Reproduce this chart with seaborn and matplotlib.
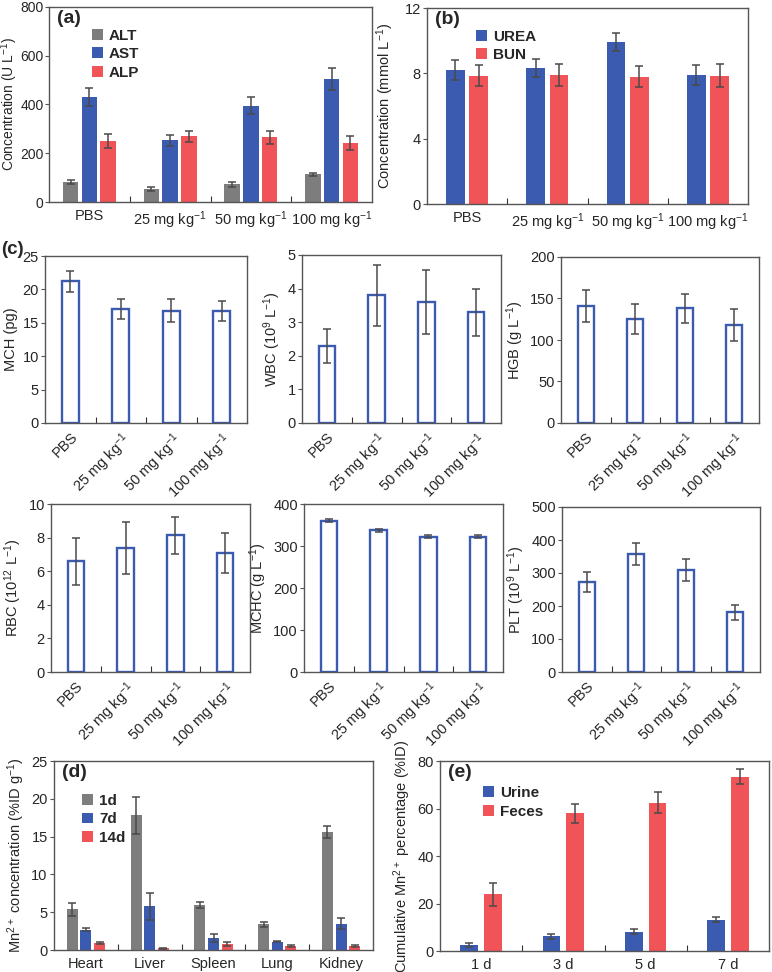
import numpy as np
import pandas as pd
import seaborn as sns
import matplotlib.pyplot as plt
from matplotlib.ticker import FixedLocator

sns.set_style("white")
plt.rcParams['font.family'] = ['Liberation Sans', 'DejaVu Sans']
plt.rcParams['mathtext.fontset'] = 'custom'
plt.rcParams['mathtext.rm'] = 'Liberation Sans'
plt.rcParams['mathtext.default'] = 'regular'
plt.rcParams['font.size'] = 10

# --- data ---
doses = ["PBS", "25 mg kg$^{-1}$", "50 mg kg$^{-1}$", "100 mg kg$^{-1}$"]

alt = [83, 55, 73, 113]
alt_err = [8, 8, 10, 8]
ast = [430, 253, 395, 505]
ast_err = [37, 22, 35, 45]
alp = [250, 270, 265, 242]
alp_err = [28, 22, 28, 28]

urea = [8.2, 8.3, 9.9, 7.9]
urea_err = [0.6, 0.55, 0.55, 0.6]
bun = [7.85, 7.9, 7.8, 7.85]
bun_err = [0.65, 0.7, 0.65, 0.7]

mch = [21.2, 17.0, 16.8, 16.7]
mch_err = [1.6, 1.5, 1.7, 1.5]
wbc = [2.3, 3.8, 3.6, 3.3]
wbc_err = [0.5, 0.9, 0.95, 0.7]
hgb = [141, 125, 138, 118]
hgb_err = [19, 18, 18, 19]
rbc = [6.6, 7.4, 8.15, 7.1]
rbc_err = [1.4, 1.55, 1.1, 1.2]
mchc = [360, 337, 322, 322]
mchc_err = [4, 4, 4, 4]
plt_vals = [272, 358, 309, 181]
plt_err = [30, 33, 33, 23]

organs = ["Heart", "Liver", "Spleen", "Lung", "Kidney"]
d1 = [5.4, 17.8, 6.0, 3.4, 15.6]
d1_err = [0.85, 2.5, 0.4, 0.35, 0.85]
d7 = [2.7, 5.8, 1.6, 1.1, 3.5]
d7_err = [0.25, 1.8, 0.55, 0.1, 0.75]
d14 = [0.9, 0.2, 0.8, 0.5, 0.5]
d14_err = [0.15, 0.05, 0.25, 0.1, 0.1]

days = ["1 d", "3 d", "5 d", "7 d"]
urine = [2.5, 6.2, 8.1, 13.2]
urine_err = [1.0, 1.1, 1.0, 1.1]
feces = [23.8, 58.0, 62.5, 73.4]
feces_err = [5.0, 4.0, 4.5, 3.2]

GRAY = "#7d7d7d"
BLUE = "#3b5bb0"
RED = "#f05459"
ERR = "#4a4a4a"
SPINE = "#555555"

W, H = 772, 972
fig = plt.figure(figsize=(W / 100, H / 100), dpi=100)


def px_axes(x0, y0, x1, y1):
    return fig.add_axes([x0 / W, 1 - y1 / H, (x1 - x0) / W, (y1 - y0) / H])


def style(ax, ymax, step, ncat):
    ax.set_ylim(0, ymax)
    ax.set_yticks(np.arange(0, ymax + step / 2, step))
    ax.set_xlim(-0.5, ncat - 0.5)
    for s in ax.spines.values():
        s.set_visible(True)
        s.set_color(SPINE)
        s.set_linewidth(1.0)
    ax.tick_params(axis='y', direction='out', length=3, width=0.8, color=SPINE,
                   labelsize=10.5, pad=1.5, left=True)
    ax.tick_params(axis='x', which='major', length=0, labelsize=10.5, pad=5)
    ax.xaxis.set_minor_locator(FixedLocator(np.arange(0.5, ncat - 1, 1.0)))
    ax.tick_params(axis='x', which='minor', direction='in', length=4, width=0.8,
                   color='#333333', bottom=True)
    ax.set_xlabel("")


def grouped(ax, cats, series, names, errs, colors, width, gap):
    rows = []
    for name, vals in zip(names, series):
        for c, v in zip(cats, vals):
            rows.append({'cat': c, 'series': name, 'value': v})
    df = pd.DataFrame(rows)
    sns.barplot(data=df, x='cat', y='value', hue='series', order=cats,
                hue_order=names, palette=colors, width=width, gap=gap,
                saturation=1, errorbar=None, linewidth=0, ax=ax)
    for cont, err in zip(ax.containers, errs):
        xs = [b.get_x() + b.get_width() / 2 for b in cont]
        ys = [b.get_height() for b in cont]
        ax.errorbar(xs, ys, yerr=err, fmt='none', ecolor=ERR, elinewidth=1.1,
                    capsize=3, capthick=1.1, zorder=5)
    ax.legend(handlelength=0.7, handleheight=0.7, handletextpad=0.4,
              labelspacing=0.3, frameon=False, loc='upper left',
              prop={'weight': 'bold', 'size': 11})


def panel_tag(ax, tag, x=0.025, y=0.985):
    ax.text(x, y, tag, transform=ax.transAxes, ha='left', va='top',
            fontsize=14, fontweight='bold')


# (a) liver enzymes
ax = px_axes(49, 7, 372, 202)
grouped(ax, doses, [alt, ast, alp], ["ALT", "AST", "ALP"],
        [alt_err, ast_err, alp_err], [GRAY, BLUE, RED], 0.7, 0.18)
style(ax, 800, 200, 4)
ax.tick_params(axis='y', labelsize=10, pad=1)
ax.set_ylabel("Concentration (U L$^{-1}$)", fontsize=10, labelpad=0)
ax.legend_.set_bbox_to_anchor((0.09, 0.96))
panel_tag(ax, "(a)")

# (b) kidney
ax = px_axes(427, 8, 748, 204)
grouped(ax, doses, [urea, bun], ["UREA", "BUN"], [urea_err, bun_err],
        [BLUE, RED], 0.58, 0.2)
style(ax, 12, 4, 4)
ax.set_ylabel("Concentration (mmol L$^{-1}$)", fontsize=10.5, labelpad=6)
ax.legend_.set_bbox_to_anchor((0.11, 0.96))
panel_tag(ax, "(b)")

# (c) blood routine
blood = [
    ((45, 256, 247, 423), mch, mch_err, 25, 5, "MCH (pg)"),
    ((302, 255, 501, 423), wbc, wbc_err, 5, 1, "WBC (10$^{9}$ L$^{-1}$)"),
    ((561, 257, 759, 423), hgb, hgb_err, 200, 50, "HGB (g L$^{-1}$)"),
    ((51, 504, 250, 672), rbc, rbc_err, 10, 2, "RBC (10$^{12}$ L$^{-1}$)"),
    ((304, 504, 503, 672), mchc, mchc_err, 400, 100, "MCHC (g L$^{-1}$)"),
    ((562, 507, 760, 672), plt_vals, plt_err, 500, 100, "PLT (10$^{9}$ L$^{-1}$)"),
]
for box, vals, err, ymax, step, lab in blood:
    ax = px_axes(*box)
    sns.barplot(x=doses, y=vals, order=doses, color=BLUE, fill=False,
                saturation=1, width=0.33, linewidth=1.7, errorbar=None, ax=ax)
    xs = [b.get_x() + b.get_width() / 2 for b in ax.containers[0]]
    ax.errorbar(xs, vals, yerr=err, fmt='none', ecolor=ERR, elinewidth=1.1,
                capsize=3, capthick=1.1, zorder=5)
    style(ax, ymax, step, 4)
    ax.set_ylabel(lab, fontsize=10.5, labelpad=3)
    ax.set_xticks(range(4))
    ax.set_xticklabels(doses, rotation=45, ha='right', rotation_mode='anchor',
                       fontsize=10.5)
fig.text(1 / W, 1 - 249 / H, "(c)", fontsize=13.5, fontweight='bold',
         ha='left', va='center')

# (d) biodistribution
ax = px_axes(54, 761, 373, 950)
grouped(ax, organs, [d1, d7, d14], ["1d", "7d", "14d"],
        [d1_err, d7_err, d14_err], [GRAY, BLUE, RED], 0.64, 0.2)
style(ax, 25, 5, 5)
ax.set_ylabel("Mn$^{2+}$ concentration (%ID g$^{-1}$)", fontsize=10.5, labelpad=3)
ax.legend_.set_bbox_to_anchor((0.045, 0.9))
panel_tag(ax, "(d)")

# (e) excretion
ax = px_axes(440, 761, 769, 951)
grouped(ax, days, [urine, feces], ["Urine", "Feces"],
        [urine_err, feces_err], [BLUE, RED], 0.58, 0.25)
style(ax, 80, 20, 4)
ax.set_ylabel("Cumulative Mn$^{2+}$ percentage (%ID)", fontsize=10.5, labelpad=3)
ax.legend_.set_bbox_to_anchor((0.09, 0.94))
panel_tag(ax, "(e)")

fig.savefig("out.png", dpi=100)
